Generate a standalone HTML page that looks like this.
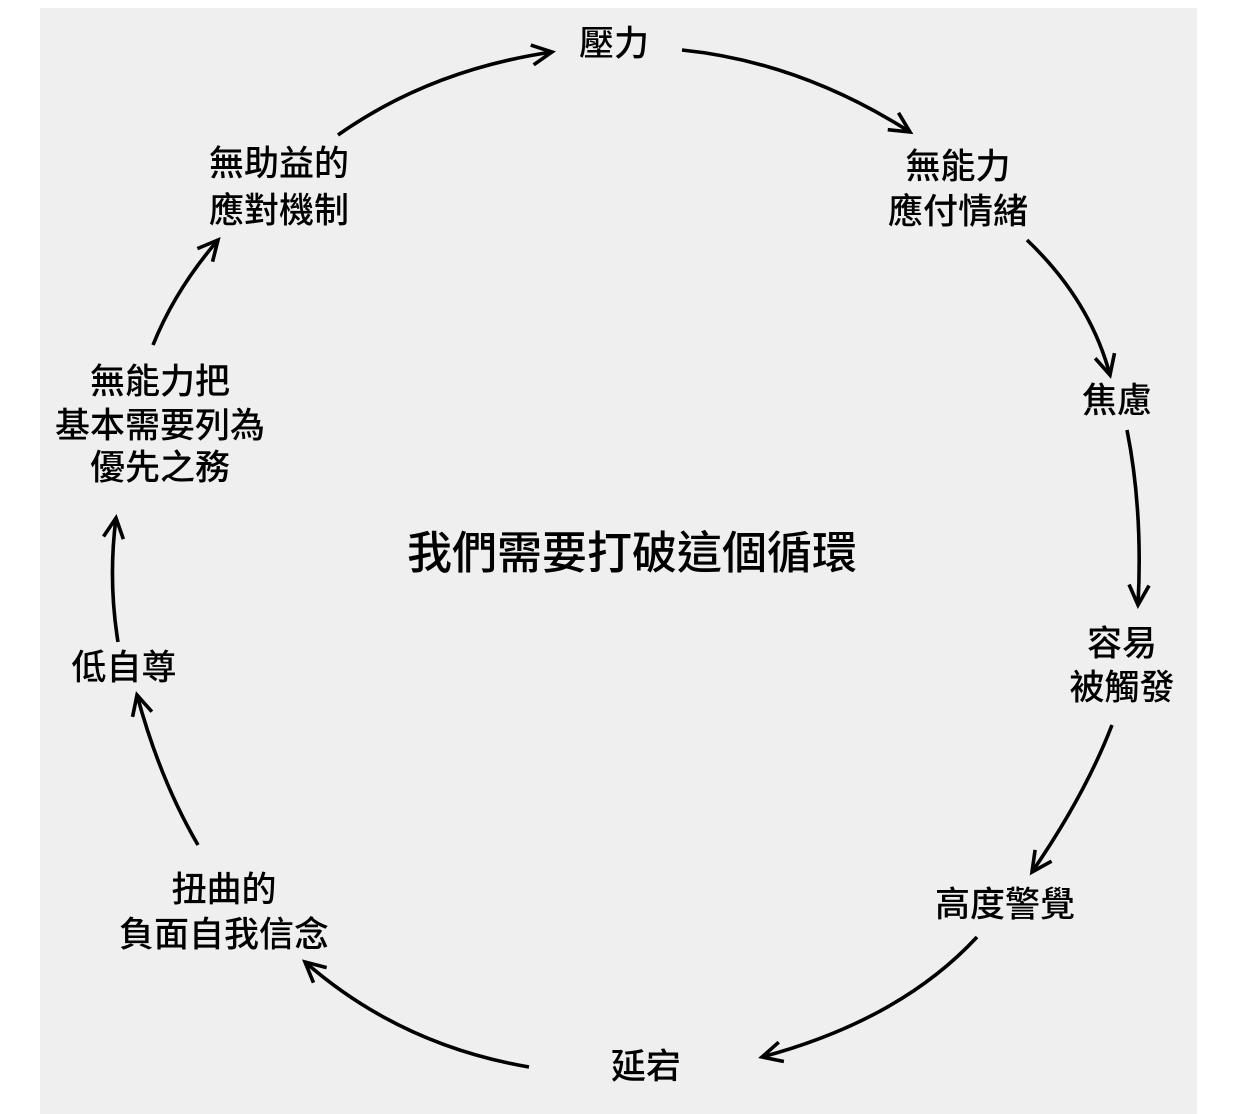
<!DOCTYPE html>
<html><head><meta charset="utf-8"><style>
html,body{margin:0;padding:0;background:#fff;}
svg{display:block;}
text{font-family:"Liberation Sans","Noto Sans CJK TC",sans-serif;font-size:35px;font-weight:500;fill:#000;text-anchor:middle;dominant-baseline:central;}
</style></head><body>
<svg width="1245" height="1114" viewBox="0 0 1245 1114" xmlns="http://www.w3.org/2000/svg">
<defs>
<marker id="a" markerUnits="userSpaceOnUse" markerWidth="30" markerHeight="30" refX="22" refY="12" orient="auto" viewBox="0 0 30 24">
<path d="M2,2 L22,12 L2,22" fill="none" stroke="#000" stroke-width="3.6"/>
</marker>
</defs>
<rect x="40" y="8" width="1157" height="1106" fill="#efefef"/>
<g fill="none" stroke="#000" stroke-width="3.6" marker-end="url(#a)">
<path d="M338,135 Q430,70 552,52"/>
<path d="M682,50 Q800,62 910,132"/>
<path d="M1027,240 Q1090,300 1110,375"/>
<path d="M1127,430 Q1143,510 1138,605"/>
<path d="M1112,725 Q1085,795 1032,872"/>
<path d="M977,937 Q900,1020 762,1057"/>
<path d="M529,1067 Q400,1045 305,962"/>
<path d="M198,845 Q160,780 137,695"/>
<path d="M118,642 Q108,580 116,518"/>
<path d="M153,345 Q175,290 218,240"/>
</g>
<text x="614" y="44">壓力</text>
<text x="958" y="167">無能力</text><text x="958" y="212">應付情緒</text>
<text x="1117" y="401">焦慮</text>
<text x="1122" y="644">容易</text><text x="1122" y="688">被觸發</text>
<text x="1005" y="905">高度警覺</text>
<text x="646" y="1067">延宕</text>
<text x="224" y="890">扭曲的</text><text x="224" y="935">負面自我信念</text>
<text x="124" y="668">低自尊</text>
<text x="160" y="382">無能力把</text><text x="160" y="426">基本需要列為</text><text x="160" y="468">優先之務</text>
<text x="279" y="164">無助益的</text><text x="279" y="211">應對機制</text>
<text x="632" y="553" style="font-size:45px">我們需要打破這個循環</text>
</svg>
</body></html>
